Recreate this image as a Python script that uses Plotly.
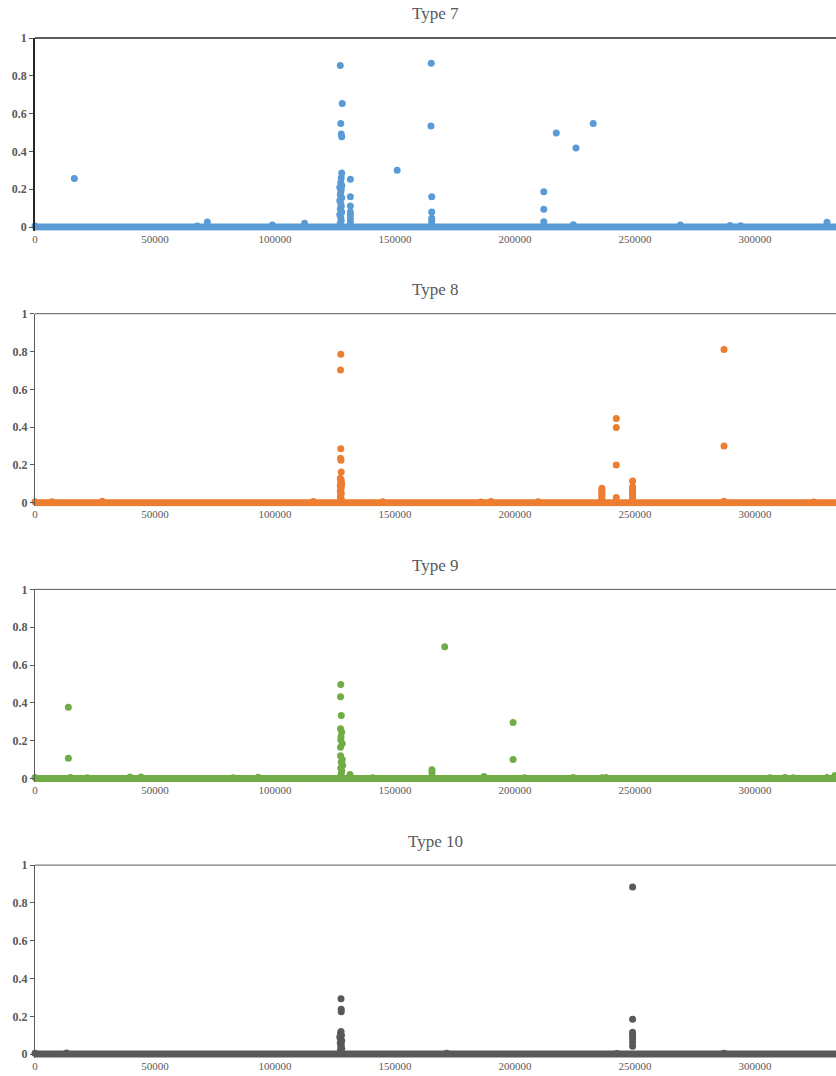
import plotly.graph_objects as go

# ---------------- data ----------------
titles = ["Type 7", "Type 8", "Type 9", "Type 10"]
colors = ["#5B9BD5", "#ED7D31", "#70AD47", "#595959"]
frame_colors = ["#262626", "#595959", "#595959", "#595959"]

type7_x = [0, 16400, 127200, 128000, 127400, 127600, 127800, 127800, 127600, 127400, 127800, 127000,
           127600, 127400, 127200, 127800, 127000, 127400, 127600, 127200, 127800, 127000, 127400,
           127600, 127200, 131400, 131400, 131400, 131400, 131400, 131400, 131400, 150900, 165100,
           165000, 165300, 165300, 165300, 165300, 165300, 212000, 212000, 212000, 217200, 225400,
           232600, 71800, 112300, 98900, 67600, 224300, 268900, 289600, 294000, 330000]
type7_y = [0.005, 0.256, 0.855, 0.653, 0.548, 0.492, 0.478, 0.286, 0.26, 0.235, 0.22, 0.21,
           0.20, 0.185, 0.17, 0.155, 0.14, 0.125, 0.11, 0.095, 0.08, 0.065, 0.05,
           0.035, 0.02, 0.252, 0.16, 0.111, 0.08, 0.065, 0.045, 0.025, 0.30, 0.866,
           0.534, 0.16, 0.079, 0.046, 0.03, 0.015, 0.187, 0.094, 0.028, 0.497, 0.418,
           0.547, 0.026, 0.02, 0.01, 0.005, 0.012, 0.01, 0.008, 0.006, 0.025]

type8_x = [0, 127400, 127300, 127400, 127300, 127500, 127600, 127200, 127600, 127400, 127800,
           127200, 127600, 127400, 127200, 127600, 127400, 127200, 127600, 242200, 242200, 242200,
           242200, 236200, 236200, 236200, 236200, 236200, 236200, 236200, 249000, 249000, 249000,
           249000, 249000, 249000, 249000, 249000, 249000, 287100, 287100, 287100, 28000, 116000,
           144900, 7000, 190000, 209600, 185700, 324500]
type8_y = [0.005, 0.785, 0.702, 0.285, 0.235, 0.225, 0.162, 0.13, 0.12, 0.11, 0.10,
           0.09, 0.08, 0.07, 0.06, 0.05, 0.04, 0.03, 0.02, 0.446, 0.398, 0.199,
           0.028, 0.076, 0.065, 0.055, 0.045, 0.035, 0.025, 0.015, 0.115, 0.085, 0.075,
           0.065, 0.055, 0.045, 0.035, 0.025, 0.015, 0.81, 0.30, 0.008, 0.008, 0.006,
           0.005, 0.005, 0.006, 0.005, 0.004, 0.004]

type9_x = [0, 13900, 13900, 127400, 127300, 127600, 127300, 127800, 127500, 127400, 128000,
           127300, 127300, 128000, 127600, 128200, 127400, 127800, 127600, 127400, 131250, 170700,
           165400, 165400, 199200, 199200, 187100, 39600, 44200, 93000, 82600, 14800, 21800,
           140700, 204000, 224300, 236200, 237900, 306250, 312500, 316000, 330000, 333300]
type9_y = [0.005, 0.377, 0.106, 0.497, 0.432, 0.333, 0.263, 0.245, 0.22, 0.205, 0.185,
           0.165, 0.12, 0.10, 0.085, 0.07, 0.055, 0.04, 0.025, 0.012, 0.02, 0.697,
           0.046, 0.03, 0.296, 0.10, 0.01, 0.008, 0.008, 0.006, 0.004, 0.005, 0.004,
           0.004, 0.004, 0.005, 0.004, 0.005, 0.004, 0.005, 0.004, 0.005, 0.015]

type10_x = [0, 127500, 127600, 127600, 127500, 127300, 127700, 127000, 127400, 127800, 127200,
            127600, 127400, 127800, 127300, 127500, 249000, 249000, 249000, 249000, 249000, 249000,
            249000, 13200, 171500, 242500, 287100]
type10_y = [0.005, 0.293, 0.237, 0.224, 0.12, 0.11, 0.10, 0.09, 0.078, 0.07, 0.06,
            0.05, 0.04, 0.03, 0.02, 0.01, 0.884, 0.185, 0.116, 0.10, 0.083, 0.062,
            0.042, 0.006, 0.004, 0.003, 0.005]

# the dense run of zero-valued points along the whole series
baseline_x = [0, 345000]
baseline_y = [0, 0]

series_x = [type7_x, type8_x, type9_x, type10_x]
series_y = [type7_y, type8_y, type9_y, type10_y]

x_tickvals = [0, 50000, 100000, 150000, 200000, 250000, 300000]
x_ticktext = ["0", "50000", "100000", "150000", "200000", "250000", "300000"]
y_tickvals = [0, 0.2, 0.4, 0.6, 0.8, 1]
y_ticktext = ["0", "0.2", "0.4", "0.6", "0.8", "1"]

# ---------------- layout geometry ----------------
W, H = 836, 1076
plot_top = [38, 313.7, 589.4, 865.1]
plot_h = 189.0
ymin = -0.02
serif = "Liberation Serif, Times New Roman, serif"

fig = go.Figure()
layout = dict(
    width=W, height=H,
    margin=dict(l=35, r=0, t=0, b=0, autoexpand=False),
    paper_bgcolor="white", plot_bgcolor="white",
    showlegend=False,
    annotations=[], shapes=[],
)

for i in range(4):
    n = "" if i == 0 else str(i + 1)
    xa, ya = "x" + n, "y" + n
    top = plot_top[i]
    bottom = top + plot_h * (1 - ymin)
    fig.add_trace(go.Scatter(
        x=baseline_x, y=baseline_y, mode="lines",
        line=dict(color=colors[i], width=7),
        xaxis=xa, yaxis=ya, hoverinfo="skip"))
    fig.add_trace(go.Scatter(
        x=series_x[i], y=series_y[i], mode="markers",
        marker=dict(color=colors[i], size=7, line=dict(width=0)),
        cliponaxis=False, xaxis=xa, yaxis=ya))
    layout["xaxis" + n] = dict(
        domain=[0, 1], anchor=ya, range=[0, 333750], automargin=False,
        showgrid=False, zeroline=False, showline=False,
        ticks="", tickvals=x_tickvals, ticktext=x_ticktext,
        tickfont=dict(family=serif, size=11, color="#595959"),
    )
    layout["yaxis" + n] = dict(
        domain=[1 - bottom / H, 1 - top / H], anchor=xa, range=[ymin, 1], automargin=False,
        showgrid=False, zeroline=False,
        showline=True, linecolor=frame_colors[i], linewidth=1.5 if i == 0 else 1,
        ticks="outside", ticklen=4, tickcolor="#595959",
        tickvals=y_tickvals, ticktext=y_ticktext,
        tickfont=dict(family=serif, size=12, color="#595959", weight="bold"),
    )
    # top border of the plot area
    layout["shapes"].append(dict(
        type="line", xref="x" + n + " domain", yref="y" + n + " domain",
        x0=0, x1=1, y0=1, y1=1,
        line=dict(color=frame_colors[i], width=1.5 if i == 0 else 1)))
    layout["annotations"].append(dict(
        text=titles[i], xref="paper", yref="paper", x=0.5, y=1 - (top - 24) / H,
        xanchor="center", yanchor="middle", showarrow=False,
        font=dict(family=serif, size=17, color="#595959")))

fig.update_layout(**layout)
fig.write_html("out.html")
